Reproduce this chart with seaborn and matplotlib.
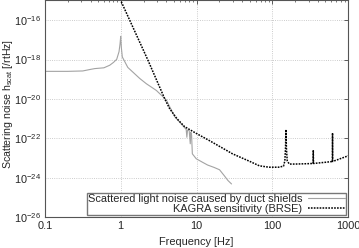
#scattered light noise from duct shields vs KAGRA sensitivity (BRSE)
import matplotlib
matplotlib.use('Agg')
import matplotlib.pyplot as plt
import numpy as np
import seaborn as sns
from matplotlib.ticker import LogLocator, NullFormatter, FixedLocator

sns.set_style('white')
plt.rcParams['font.family'] = ['Liberation Sans', 'DejaVu Sans']
plt.rcParams['mathtext.default'] = 'regular'
plt.rcParams['font.size'] = 7.9

# scattered light noise (freq in Hz, log10 of h_scat)
scat_freq = [0.1, 0.2, 0.316, 0.4, 0.455, 0.6, 0.716, 0.8, 0.885, 0.95, 0.98, 1.0,
             1.02, 1.05, 1.24, 1.78, 2.18, 2.95, 3.99, 5.14, 6.95, 7.3, 7.45, 7.6,
             8.0, 8.26, 8.4, 8.6, 8.8, 9.9, 12.0, 14.0, 17.0, 20.1, 23.3, 26.0, 28.9]
scat_exp = [-18.6, -18.6, -18.58, -18.5, -18.46, -18.42, -18.29, -18.15, -17.99, -17.6, -17.2, -16.82,
            -17.4, -17.87, -18.4, -18.96, -19.23, -19.57, -20.05, -20.9, -21.46, -21.55, -21.95, -21.58,
            -21.62, -22.28, -21.7, -21.85, -22.79, -23.04, -23.22, -23.36, -23.48, -23.6, -23.91, -24.15, -24.32]

# KAGRA sensitivity BRSE (freq in Hz, log10 of strain)
kagra_freq = [0.97, 1.0, 2.29, 3.79, 4.41, 5.5, 6.95, 10.0, 14.8, 29.8, 50.0, 67.4, 90.0, 120.0,
              140.0, 146.0, 149.0, 151.0, 153.0, 157.0, 167.0, 200.0, 300.0, 344.0, 346.0, 348.0,
              500.0, 619.0, 621.0, 623.0, 1000.0]
kagra_exp = [-14.85, -15.0, -18.04, -19.98, -20.49, -21.0, -21.41, -21.76, -22.12, -22.79, -23.17, -23.4,
             -23.47, -23.47, -23.42, -23.15, -22.5, -21.56, -22.5, -23.15, -23.31, -23.31, -23.29, -23.28,
             -22.6, -23.28, -23.22, -23.18, -21.73, -23.18, -22.89]

fig = plt.figure(figsize=(3.59, 2.48), dpi=100)
ax = fig.add_axes([0.125, 0.125, 0.845, 0.873])

sns.lineplot(x=scat_freq, y=10.0**np.array(scat_exp), ax=ax, color='#a3a3a3', lw=0.8,
             estimator=None, sort=False, label='Scattered light noise caused by duct shields')
sns.lineplot(x=kagra_freq, y=10.0**np.array(kagra_exp), ax=ax, color='black', lw=1.1,
             linestyle=(0, (1.1, 0.8)), estimator=None, sort=False, label='KAGRA sensitivity (BRSE)')

ax.set_xscale('log')
ax.set_yscale('log')
ax.set_xlim(0.1, 1000)
ax.set_ylim(1e-26, 1e-15)

ax.set_xticks([0.1, 1, 10, 100, 1000])
ax.set_xticklabels(['0.1', '1', '10', '100', '1000'])
ax.xaxis.set_minor_locator(LogLocator(base=10, subs=np.arange(2, 10)))
ax.xaxis.set_minor_formatter(NullFormatter())
yt = [1e-26, 1e-24, 1e-22, 1e-20, 1e-18, 1e-16]
ax.yaxis.set_major_locator(FixedLocator(yt))
ax.set_yticklabels([r'$10^{-26}$', r'$10^{-24}$', r'$10^{-22}$', r'$10^{-20}$', r'$10^{-18}$', r'$10^{-16}$'])
ax.yaxis.set_minor_locator(FixedLocator([]))

ax.tick_params(which='both', direction='in', top=True, right=True, color='#444444')
ax.tick_params(which='major', length=3, width=0.6, pad=3)
ax.tick_params(which='minor', length=1.6, width=0.5)
ax.grid(True, which='major', linestyle=':', color='#bbbbbb', linewidth=0.6)
for s in ax.spines.values():
    s.set_color('#555555')
    s.set_linewidth(0.8)

ax.set_xlabel('Frequency [Hz]', labelpad=4)
ax.set_ylabel(r'Scattering noise h$_{scat}$ [/rtHz]', fontsize=7.6)
ax.yaxis.set_label_coords(-0.097, 0.52)

ax.legend(loc='lower right', markerfirst=False, fontsize=7.9, frameon=True, fancybox=False,
          edgecolor='#777777', framealpha=1, handlelength=3.4, labelspacing=0.0,
          borderpad=0.1, borderaxespad=0.2, handletextpad=0.5)

plt.savefig('out.png', dpi=100)
